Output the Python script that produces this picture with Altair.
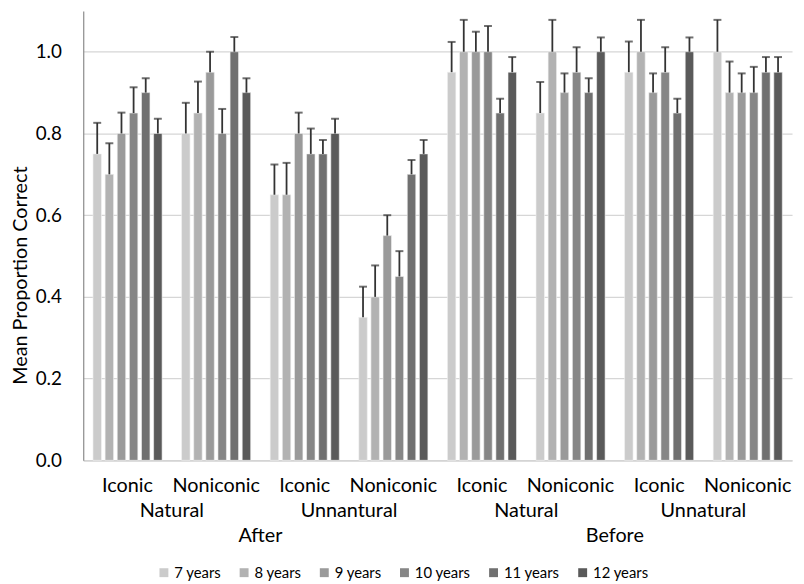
import altair as alt
import pandas as pd

ages = ["7 years", "8 years", "9 years", "10 years", "11 years", "12 years"]
phase = ["After", "After", "After", "After", "Before", "Before", "Before", "Before"]
nature = ["Natural", "Natural", "Unnantural", "Unnantural",
          "Natural", "Natural", "Unnatural", "Unnatural"]
gesture = ["Iconic", "Noniconic", "Iconic", "Noniconic",
           "Iconic", "Noniconic", "Iconic", "Noniconic"]

means = [
    [0.75, 0.70, 0.80, 0.85, 0.90, 0.80],
    [0.80, 0.85, 0.95, 0.80, 1.00, 0.90],
    [0.65, 0.65, 0.80, 0.75, 0.75, 0.80],
    [0.35, 0.40, 0.55, 0.45, 0.70, 0.75],
    [0.95, 1.00, 1.00, 1.00, 0.85, 0.95],
    [0.85, 1.00, 0.90, 0.95, 0.90, 1.00],
    [0.95, 1.00, 0.90, 0.95, 0.85, 1.00],
    [1.00, 0.90, 0.90, 0.90, 0.95, 0.95],
]
errs = [
    [0.076, 0.076, 0.051, 0.063, 0.035, 0.036],
    [0.075, 0.077, 0.050, 0.060, 0.036, 0.035],
    [0.074, 0.078, 0.051, 0.062, 0.034, 0.036],
    [0.075, 0.077, 0.050, 0.062, 0.035, 0.034],
    [0.074, 0.078, 0.049, 0.063, 0.035, 0.037],
    [0.076, 0.078, 0.047, 0.061, 0.035, 0.035],
    [0.075, 0.078, 0.047, 0.061, 0.035, 0.035],
    [0.078, 0.076, 0.047, 0.063, 0.037, 0.037],
]
grays = ["#cbcbcb", "#b2b2b2", "#9a9a9a", "#868686", "#707070", "#5a5a5a"]
y_ticks = [0.0, 0.2, 0.4, 0.6, 0.8, 1.0]

FONT = "Lato"
W, H = 716, 454
STEP = W / 8

groups = [f"{phase[i]}|{nature[i]}|{gesture[i]}" for i in range(8)]
rows = []
for i, g in enumerate(groups):
    for j, a in enumerate(ages):
        rows.append({"grp": g, "age": a, "mean": means[i][j], "err": errs[i][j]})
df = pd.DataFrame(rows)

row2 = pd.DataFrame({"grp": [groups[0], groups[2], groups[4], groups[6]],
                     "txt": [nature[0], nature[2], nature[4], nature[6]]})
row3 = pd.DataFrame({"grp": [groups[1], groups[5]],
                     "txt": [phase[1], phase[5]]})

x_enc = alt.X("grp:N", sort=groups,
              scale=alt.Scale(paddingInner=0.22, paddingOuter=0.11),
              axis=alt.Axis(title=None, labelAngle=0, labelExpr="split(datum.label, '|')[2]",
                            labelFontSize=20, labelFont=FONT, labelColor="#000000",
                            labelPadding=15, ticks=False, tickSize=0,
                            domainColor="#d0d0d0", domainWidth=1.3, grid=False))
xo_enc = alt.XOffset("age:N", sort=ages, scale=alt.Scale(paddingInner=0.3))

base = alt.Chart(df).transform_calculate(upper="datum.mean + datum.err")

bars = base.mark_bar(stroke="#f4f4f4", strokeWidth=0.6).encode(
    x=x_enc,
    xOffset=xo_enc,
    y=alt.Y("mean:Q", scale=alt.Scale(domain=[0, 1.1], nice=False),
            axis=alt.Axis(title="Mean Proportion Correct", values=y_ticks, format=".1f",
                          ticks=False, tickSize=0, labelPadding=22, labelFontSize=19,
                          labelFont=FONT, labelColor="#000000",
                          titleFont=FONT, titleFontSize=20, titleFontWeight="normal",
                          titleColor="#000000", titleX=-57, titleY=267,
                          titleBaseline="alphabetic",
                          domainColor="#8a8a8a", domainWidth=1.2,
                          gridColor="#d6d6d6", gridWidth=1.3)),
    color=alt.Color("age:N", sort=ages, scale=alt.Scale(domain=ages, range=grays),
                    legend=alt.Legend(title=None, orient="none", direction="horizontal",
                                      columns=6, gridAlign="none", legendX=74, legendY=560,
                                      symbolType="square", symbolSize=81,
                                      symbolStrokeWidth=0, labelFont=FONT,
                                      labelFontSize=15, labelColor="#000000",
                                      labelOffset=3, columnPadding=15)),
)

rules = base.mark_rule(color="#333333", strokeWidth=1.8).encode(
    x=alt.X("grp:N", sort=groups),
    xOffset=alt.XOffset("age:N", sort=ages),
    y="mean:Q",
    y2="upper:Q",
)

caps = base.mark_tick(orient="horizontal", size=8, thickness=2, color="#333333").encode(
    x=alt.X("grp:N", sort=groups),
    xOffset=alt.XOffset("age:N", sort=ages),
    y="upper:Q",
)

lab2 = alt.Chart(row2).mark_text(font=FONT, fontSize=20, color="#000000",
                                 baseline="alphabetic", dx=STEP / 2).encode(
    x=alt.X("grp:N", sort=groups),
    y=alt.value(511),
    text="txt:N",
)
lab3 = alt.Chart(row3).mark_text(font=FONT, fontSize=20, color="#000000",
                                 baseline="alphabetic", dx=STEP / 2).encode(
    x=alt.X("grp:N", sort=groups),
    y=alt.value(537),
    text="txt:N",
)

chart = alt.layer(bars, rules, caps, lab2, lab3).properties(
    width=W, height=H,
    autosize=alt.AutoSizeParams(type="none"),
    padding={"left": 76, "top": 0, "right": 4, "bottom": 120},
    background="white",
).configure_view(stroke=None)

chart.save("out.html", embed_options={"renderer": "svg", "actions": False})
